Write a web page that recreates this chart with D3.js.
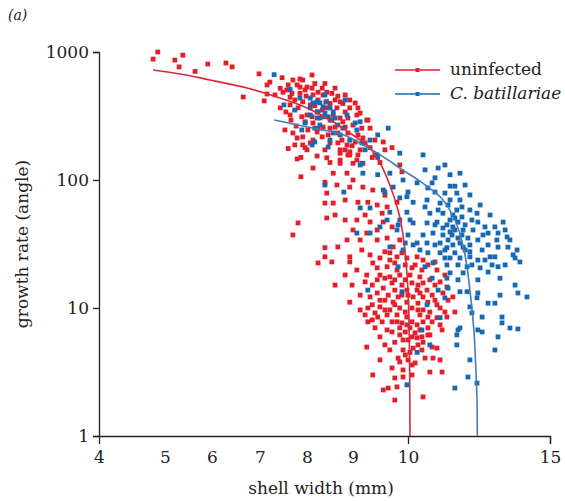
<!DOCTYPE html>
<html>
<head>
<meta charset="utf-8">
<script src="https://cdn.jsdelivr.net/npm/d3@7"></script>
<style>
body { margin: 0; background: #fff; }
svg text { font-family: "DejaVu Serif", "Liberation Serif", serif; fill: #222; }
</style>
</head>
<body>
<div id="chart"></div>
<script>
var svgWidth = 565;
var svgHeight = 501;

// tick labels
var xTickValues = [4, 5, 6, 7, 8, 9, 10, 15];
var xTickMarks = [10, 15];
var yTickValues = [1, 10, 100, 1000];

// uninfected snails: [shell width, growth rate]
var uninfected = [
  [4.89,1000],[4.82,880],[5.38,945],[5.21,864],[5.30,765],[5.91,805],[6.29,820],[6.42,765],[5.64,705],[6.98,675],
  [7.47,630],[7.15,553],[6.65,445],[7.09,415],[7.15,470],
  [7.70,604],[7.85,615],[7.91,604],[7.60,553],[7.79,553],[8.00,532],[8.11,522],[8.33,522],[7.49,485],[7.68,475],
  [7.85,475],[8.13,462],[8.35,462],[8.54,475],[8.61,422],[8.72,408],[7.74,422],[7.91,408],[8.07,386],[7.64,386],
  [7.81,366],[8.22,340],[8.43,366],[8.65,366],[8.83,340],[8.93,366],[9.09,366],[8.00,322],[8.28,305],[8.50,294],
  [8.72,305],[8.89,305],[9.07,322],[8.13,279],[8.35,259],[8.61,259],[8.83,259],[9.00,269],[9.25,294],[8.02,246],
  [8.22,237],[8.46,225],[8.67,233],[8.89,233],[9.09,225],[9.18,213],[7.70,233],[7.79,213],[7.91,188],[8.00,172],
  [8.13,205],[8.50,195],[8.67,195],[8.87,188],[9.04,198],[8.72,172],[8.93,166],[9.13,172],[9.31,179],[9.40,157],
  [9.49,137],[8.72,143],[8.89,157],[9.00,135],[8.50,137],[7.87,150],[7.60,176],[7.53,246],[7.43,366],[7.32,462],
  [7.57,505],[7.96,505],[8.24,422],[8.41,408],[8.17,380],[8.57,322],[8.39,312],[8.78,285],[7.96,285],[8.24,253],
  [7.64,443],[7.98,452],[8.24,485],[8.43,485],[8.67,452],[8.78,396],[8.50,396],[8.33,352],[8.11,312],[7.89,312],
  [7.66,294],[7.55,340],[7.77,264],[7.91,217],[8.33,217],[8.50,254],[8.76,205],[8.98,185],[9.16,254],[9.22,195],
  [9.35,150],[9.58,172],[9.09,157],[8.83,172],[8.39,172],[8.22,154],[8.07,195],[7.74,188],[7.64,322],[7.43,520],
  [7.85,532],[8.17,567],[8.61,522],[8.83,462],[8.93,422],[9.04,400],[9.13,333],[9.31,254],[9.40,205],[9.55,198],
  [9.71,179],[8.11,661],[8.39,567],[7.21,582],
  [9.27,294],[8.13,124],[7.87,106],[7.79,146],[7.96,179],[7.81,46.2],[7.70,37.2],[9.89,27.0],[9.67,27.0],[8.93,25.1],
  [8.43,149],[8.72,162],[8.93,157],[8.72,135],[9.07,143],[9.18,135],[8.57,113],[8.87,113],[9.00,100],[8.39,96],
  [8.65,91.4],[9.18,88],[9.36,83.5],[8.43,79],[8.57,66],[8.83,69.8],[9.09,67],[9.27,67],[9.44,63.8],[9.62,61.6],
  [9.80,67],[8.83,48.7],[9.07,48.7],[8.43,50.5],[9.31,47],[9.55,47],[9.71,43],[9.44,40.7],[9.25,38.5],[9.00,40.7],
  [9.13,34],[9.44,34],[9.62,35.2],[9.85,34],[9.73,30],[8.87,34],[8.39,66],[9.85,131],[9.89,116],[8.61,53.3],
  [9.22,53.3],[9.53,55],[8.93,88],[9.58,76],
  [8.39,29.6],[8.67,30.0],[8.39,25.1],[8.54,22.9],[8.24,22.5],[9.16,28.4],[9.36,22.5],[9.49,24.6],[9.67,23.7],[9.80,25.1],
  [9.98,24.6],[10.32,25.1],[10.53,23.7],[9.44,20.6],[9.62,21.0],[9.80,19.8],[10.14,20.6],[10.49,19.8],[9.25,18.1],[9.49,18.1],
  [9.67,17.5],[9.85,18.1],[10.07,18.1],[10.42,17.5],[9.22,16.0],[9.44,16.6],[9.71,15.7],[9.89,15.1],[10.14,15.7],[10.53,15.7],
  [8.61,15.1],[9.55,14.3],[9.76,13.8],[9.98,13.8],[10.32,13.8],[10.67,13.8],[9.44,13.1],[9.64,12.6],[9.89,12.6],[10.18,12.2],
  [10.53,12.2],[8.93,11.1],[9.49,11.5],[9.73,11.1],[9.98,11.1],[10.35,10.9],[10.70,11.1],[9.27,10.0],[9.49,10.2],[9.67,9.66],
  [9.85,10.0],[10.14,10.0],[10.53,9.66],[9.22,8.83],[9.40,9.15],[9.62,8.83],[9.80,8.83],[9.98,8.5],[10.42,8.83],[10.70,8.5],
  [9.35,8.07],[9.53,7.8],[9.71,7.8],[9.89,7.65],[10.14,7.8],[10.53,7.8],[9.40,7.0],[9.62,6.74],[9.85,7.0],[10.07,7.0],
  [10.42,6.74],[10.70,7.0],[9.49,5.95],[9.85,6.16],[10.14,5.95],[10.49,5.95],[10.0,5.63],[10.32,5.85],[10.53,5.4],[9.25,4.95],
  [9.67,4.70],[9.91,4.70],[10.18,4.86],[9.95,4.30],[9.82,4.06],[10.0,3.93],[9.91,3.28],[10.25,3.72],[9.76,2.84],[9.91,2.89],
  [9.36,3.0],[9.80,2.42],[9.55,2.29],[9.64,2.37],[9.76,1.91],[10.53,2.02],
  [9.31,26],[9.58,27.5],[9.76,22.5],[9.95,21.7],[10.25,21.7],[10.70,21.7],[9.35,15.1],[9.58,17.1],[9.76,16.6],[9.95,16.6],
  [10.35,15.1],[10.77,16.6],[9.31,12.2],[9.58,11.5],[9.82,12.2],[10.0,12.6],[10.42,13.1],[10.85,12.6],[9.13,9.66],[9.35,10.6],
  [9.58,9.66],[9.76,10.6],[9.95,9.3],[10.35,9.66],[10.77,9.3],[9.27,7.8],[9.45,8.5],[9.80,7.8],[9.98,7.38],[10.32,7.38],
  [10.85,7.8],[9.71,6.5],[9.95,6.5],[10.25,6.4],[10.70,6.16],[9.76,5.4],[9.91,5.63],[10.35,5.15],[9.58,5.15],[10.07,4.5],
  [9.85,3.79],[10.14,3.0],[9.71,3.4],[9.49,3.93],[8.93,22.9],[9.07,19.8],[8.98,15.1],[9.13,12.6],[8.83,18.1],[11.02,10.6],
  [11.30,9.3],[11.13,7.38],[11.41,11.5],[10.95,15.1],[11.02,4.86],[10.60,4.06],[11.13,3.93],
  [11.37,14.6],[11.23,13.1],[11.58,12.2],[11.13,10.0],[11.65,9.3],[11.37,8.5],[11.20,6.74],[10.77,6.16],[10.85,4.95],[10.49,4.70],
  [10.88,4.06],[10.77,3.16],[11.20,3.16],[10.14,3.59],[11.02,19.8],[11.13,16.0],[10.95,22.9],[11.30,18.1],[10.95,11.5],[11.02,8.4]
];

// C. batillariae infected snails: [shell width, growth rate]
var infected = [
  [7.30,665],[7.51,386],[7.64,510],[8.07,437],[8.22,408],[8.28,400],[8.35,373],[8.13,400],[8.07,366],[8.24,340],
  [8.39,333],[8.33,312],[8.46,312],[8.22,305],[8.57,340],[8.54,294],[7.74,352],[7.96,279],[7.89,246],[8.11,188],
  [8.17,198],[8.57,233],[8.72,225],[8.87,322],[9.04,279],[9.07,246],[9.45,225],[9.31,205],[9.16,195],[9.22,172],
  [9.44,157],[9.16,135],[9.64,254],[8.46,181],[8.43,408],[8.50,366],[8.28,269],[8.67,269],
  [7.85,437],[8.39,462],[8.61,305],[8.78,254],[8.93,205],[8.17,254],[8.07,322],[8.50,205],[9.13,285],[8.83,422],
  [9.85,162],[9.45,150],[9.13,131],[9.18,113],[9.45,110],[9.67,113],[9.91,100],[10.32,95],[9.73,88],[9.55,83.5],
  [10.0,80.5],[9.85,72.5],[10.18,67],[9.31,60.5],[9.67,56],[9.98,56],[9.85,48.7],[10.18,46.2],[9.49,43],[9.80,40.7],
  [10.0,37.2],[9.95,32.2],[10.32,32.2],[8.80,80.5],[8.39,91.4],[9.13,60.5],[9.58,80.5],[9.07,38.5],[9.31,38.5],[9.82,44.6],
  [9.62,48.7],[9.91,28.4],[9.67,30],[10.18,31.1],[10.07,48.7],[9.98,74],
  [10.53,157],[11.06,124],[11.48,110],[11.83,113],[10.95,104],[11.48,89.5],[11.65,89.5],[10.70,86.6],[10.95,80.5],[11.30,79],
  [11.72,79],[11.83,69.8],[10.67,69.8],[11.13,66],[11.41,63.8],[12.18,58.3],[12.43,55],[10.77,55],[11.23,55],[11.58,53.3],
  [11.90,51.4],[12.25,48.7],[12.71,43],[13.35,46.9],[13.06,43],[10.67,46.2],[11.02,46.9],[11.37,44.6],[11.58,43],[11.94,40.7],
  [12.29,40.7],[12.82,38.5],[13.17,38.5],[13.49,35.9],[10.88,38.5],[11.23,37.2],[11.55,37.2],[11.76,35.2],[12.11,35.2],[12.46,34],
  [13.13,34],[10.67,32.2],[11.13,32.2],[11.58,31.1],[11.94,29.9],[12.61,28.4],[13.17,29.9],[13.52,29.9],[10.70,27],[11.13,27],
  [11.65,27],[11.83,24.6],[12.18,25.1],[12.46,23.7],[12.89,25.1],[13.77,24.6],[10.88,22.5],[11.37,21.7],[12.08,21.0],[12.54,20.6],
  [12.96,21.7],[13.17,21.0],[11.48,18.8],[11.94,18.8],[12.82,19.1],[13.24,17.1],[11.48,48.7],[11.76,46.9],[11.65,40.7],[11.41,34],
  [11.83,32.2],[12.01,28.4],[11.48,24.6],[11.30,28.4],[12.18,31.1],[11.72,58.3],[13.70,26.0],
  [10.60,120],[11.30,131],[10.85,95],[12.01,91.4],[12.18,76.4],[12.54,63.8],[11.06,58.3],[10.60,61.6],[11.48,69.8],[11.90,61.6],
  [12.89,53.3],[12.64,37.2],[10.95,31.1],[11.37,29.6],[12.18,27.5],[11.76,21.7],[12.25,21.7],[12.71,23.7],[11.30,24.6],[10.53,37.2],
  [10.42,28.4],[10.95,44.6],[11.23,42.2],[12.01,44.6],[12.46,46.9],[13.42,40.7],[13.59,34],[13.84,28.4],[13.94,22.9],[13.06,25.1],
  [13.42,21.7],[12.82,31.1],[11.65,50.5],[11.90,37.2],[11.48,39.3],
  [10.60,21.0],[10.85,17.1],[11.06,13.8],[10.67,10.6],[11.13,8.4],[10.32,4.5],[10.77,5.15],
  [11.83,13.4],[12.08,13.4],[12.46,13.1],[11.41,14.3],[11.30,12.0],[12.43,12.0],[12.82,10.9],[13.06,10.9],[13.24,12.6],[13.77,15.1],
  [13.87,13.1],[14.19,12.2],[12.18,10.2],[12.25,9.15],[12.61,8.5],[13.31,8.5],[13.31,7.65],[13.59,6.98],[13.87,6.86],[11.83,6.98],
  [11.76,6.74],[12.46,6.74],[12.61,6.5],[11.72,6.16],[11.72,5.15],[13.17,5.95],[13.06,4.70],[12.18,3.93],[12.11,2.89],[12.43,2.59],
  [11.65,2.37],[9.98,2.51],[12.46,16.6],[11.37,17.1],[11.76,16.6],[9.27,13.8],[9.82,21.0],[9.89,13.4],[10.49,6.74]
];

// fitted curves
var uninfectedFit = [
  [4.82,723],[5.32,673],[5.96,604],[6.73,523],[7.36,445],[7.85,385],[8.50,294],[8.93,233],[9.25,188],
  [9.49,136],[9.67,91],[9.82,58],[9.91,37],[9.96,23.7],[10.00,13.8],[10.04,6.7],[10.06,2.74],[10.07,1]
];
var infectedFit = [
  [7.30,294],[7.91,264],[8.65,233],[9.18,188],[9.58,149],[9.85,124],[10.42,98],[11.13,74],[11.65,48.7],
  [11.97,28.4],[12.18,13.8],[12.32,6.7],[12.39,3.28],[12.43,1.91],[12.44,1]
];

var red = "#e41f2b";
var blue = "#1769b4";

var svg = d3.select("#chart")
  .append("svg")
  .attr("width", svgWidth)
  .attr("height", svgHeight);

// x labels are spaced unevenly in the original, so use a piecewise scale
var xScale = d3.scaleLinear()
  .domain(xTickValues)
  .range([99, 165, 212, 260, 307, 353, 408, 550]);

var yScale = d3.scaleLog()
  .domain([1, 1000])
  .range([436, 52]);

// axes
var xAxis = svg.append("g")
  .attr("transform", "translate(0,436)")
  .call(d3.axisBottom(xScale)
    .tickValues(xTickValues)
    .tickSizeOuter(0)
    .tickSize(8)
    .tickPadding(7)
    .tickFormat(d3.format("d")));

xAxis.selectAll(".tick line")
  .attr("opacity", d => xTickMarks.indexOf(d) >= 0 ? 1 : 0);

var yAxis = svg.append("g")
  .attr("transform", "translate(99,0)")
  .call(d3.axisLeft(yScale)
    .tickValues(yTickValues)
    .tickSizeOuter(0)
    .tickSize(6)
    .tickPadding(4)
    .tickFormat(d3.format("d")));

svg.selectAll(".domain, .tick line")
  .attr("stroke", "#222")
  .attr("stroke-width", 1.3);

svg.selectAll(".tick text")
  .attr("font-size", 17)
  .attr("fill", "#222");

yAxis.selectAll(".tick text").attr("dy", "0.35em");

// points
var size = 4.8;

svg.append("g").selectAll("rect")
  .data(uninfected)
  .enter()
  .append("rect")
  .attr("x", d => xScale(d[0]) - size / 2)
  .attr("y", d => yScale(d[1]) - size / 2)
  .attr("width", size)
  .attr("height", size)
  .attr("fill", red);

svg.append("g").selectAll("rect")
  .data(infected)
  .enter()
  .append("rect")
  .attr("x", d => xScale(d[0]) - size / 2)
  .attr("y", d => yScale(d[1]) - size / 2)
  .attr("width", size)
  .attr("height", size)
  .attr("fill", blue);

// fitted lines
var line = d3.line()
  .x(d => xScale(d[0]))
  .y(d => yScale(d[1]))
  .curve(d3.curveMonotoneY);

svg.append("path")
  .datum(uninfectedFit)
  .attr("d", line)
  .attr("fill", "none")
  .attr("stroke", "#d9293a")
  .attr("stroke-width", 1.6);

svg.append("path")
  .datum(infectedFit)
  .attr("d", line)
  .attr("fill", "none")
  .attr("stroke", "#3f7db8")
  .attr("stroke-width", 1.6);

// legend
var legendItems = [
  { label: "uninfected", color: red, italic: false },
  { label: "C. batillariae", color: blue, italic: true }
];

var legend = svg.append("g").attr("transform", "translate(395,70)");

legendItems.forEach(function(item, i) {
  var g = legend.append("g").attr("transform", `translate(0,${i * 24})`);
  g.append("line")
    .attr("x1", 0).attr("x2", 45)
    .attr("stroke", item.color)
    .attr("stroke-width", 1.5);
  g.append("rect")
    .attr("x", 20.5).attr("y", -2)
    .attr("width", 4).attr("height", 4)
    .attr("fill", item.color);
  g.append("text")
    .attr("x", 55)
    .attr("dy", "0.32em")
    .attr("font-size", 17)
    .attr("font-style", item.italic ? "italic" : "normal")
    .text(item.label);
});

// titles
svg.append("text")
  .attr("x", 8)
  .attr("y", 20)
  .attr("font-size", 14)
  .attr("font-style", "italic")
  .text("(a)");

svg.append("text")
  .attr("x", 321)
  .attr("y", 494)
  .attr("text-anchor", "middle")
  .attr("font-size", 17)
  .text("shell width (mm)");

svg.append("text")
  .attr("transform", "translate(28,244) rotate(-90)")
  .attr("text-anchor", "middle")
  .attr("font-size", 17)
  .text("growth rate (angle)");
</script>
</body>
</html>
